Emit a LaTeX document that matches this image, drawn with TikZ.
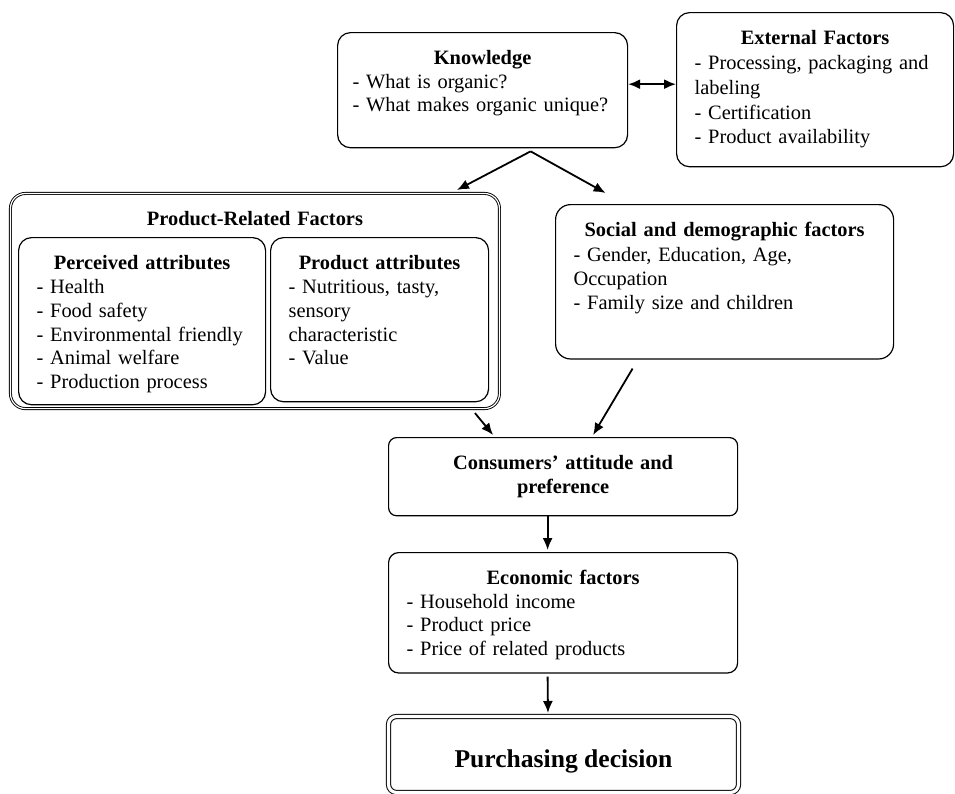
\documentclass[tikz,border=0pt]{standalone}
\usepackage{fontspec}
\setmainfont{Liberation Serif}
\usetikzlibrary{arrows.meta}

\begin{document}
\begin{tikzpicture}[x=0.5pt,y=-0.5pt,
    fbox/.style={draw,line width=0.6pt,rounded corners=6.5pt,anchor=north west,align=left,inner xsep=9pt,inner ysep=9pt,font=\fontsize{10.2}{11.75}\selectfont},
    arr/.style={-{Latex[length=6pt,width=5pt]},line width=0.9pt}]
    \useasboundingbox (0,0) rectangle (955,794);
    \node[fbox,inner xsep=7.5pt,text width=130pt,text depth=32.5pt] (know) at (337,32) {{\centering\textbf{Knowledge}\par}- What is organic?\\- What makes organic~unique?};
    \node[fbox,text width=120.5pt,text depth=52pt,font=\fontsize{10.2}{12.4}\selectfont] (ext) at (676,12) {{\centering\textbf{External Factors}\par}- Processing, packaging and\\labeling\\- Certification\\- Product availability};
    \node[fbox,rounded corners=7.5pt,double,double distance=0.6pt,line width=0.45pt,text width=226.5pt,text depth=82.5pt] (prf) at (10,193) {{\centering\textbf{Product-Related Factors}\par}};
    \node[fbox,text width=105.5pt,text depth=58.5pt,font=\fontsize{10.2}{11.9}\selectfont] (perc) at (18,237) {{\centering\textbf{Perceived attributes}\par}- Health\\- Food safety\\- Environmental friendly\\- Animal welfare\\- Production process};
    \node[fbox,text width=91pt,text depth=57pt,font=\fontsize{10.2}{11.9}\selectfont] (pat) at (270,237) {{\centering\textbf{Product attributes}\par}- Nutritious, tasty,\\sensory\\characteristic\\- Value};
    \node[fbox,rounded corners=7.5pt,text width=151pt,text depth=52pt,font=\fontsize{10.2}{12.1}\selectfont] (soc) at (555,204) {{\centering\textbf{Social and demographic factors}\par}- Gender, Education, Age,\\Occupation\\- Family size and children};
    \node[fbox,rounded corners=4pt,align=center,text width=156.5pt,text depth=14pt] (cons) at (388,437) {\textbf{Consumers' attitude and}\\\textbf{preference}};
    \node[fbox,rounded corners=5pt,text width=156.5pt,text depth=35pt] (econ) at (388,552) {{\centering\textbf{Economic factors}\par}- Household income\\- Product price\\- Price of related products};
    \node[fbox,rounded corners=4pt,double,double distance=1.6pt,line width=0.5pt,align=center,inner xsep=0pt,inner ysep=0pt,minimum width=175pt,text height=25.5pt,text depth=12.5pt,font=\fontsize{12.8}{15}\selectfont\bfseries] (purch) at (388,716) {Purchasing decision};
    \draw[arr,{Latex[length=6pt,width=5pt]}-{Latex[length=6pt,width=5pt]}] ([yshift=3pt]know.east) -- ([yshift=3pt]know.east -| ext.west);
    \draw[arr] ([xshift=24pt,yshift=-1.5pt]know.south) -- ([xshift=101pt,yshift=1.5pt]prf.north);
    \draw[arr] ([xshift=24pt,yshift=-1.5pt]know.south) -- ([xshift=-59.5pt,yshift=5.5pt]soc.north);
    \draw[arr] ([xshift=110pt,yshift=-2pt]prf.south) -- ([xshift=-35pt,yshift=1pt]cons.north);
    \draw[arr] ([xshift=-46pt,yshift=-4.5pt]soc.south) -- ([xshift=15pt,yshift=1pt]cons.north);
    \draw[arr] ([xshift=-7.75pt]cons.south) -- ([xshift=-7.75pt,yshift=1pt]econ.north);
    \draw[arr] ([xshift=-7.75pt,yshift=-1.5pt]econ.south) -- ([xshift=-7.75pt,yshift=1.5pt]purch.north);
\end{tikzpicture}
\end{document}
